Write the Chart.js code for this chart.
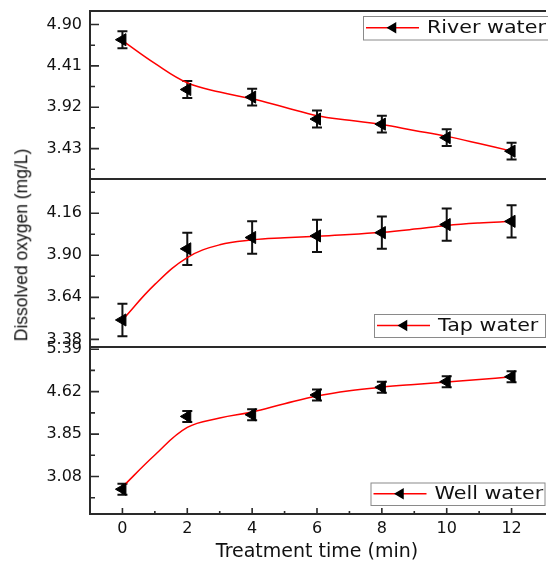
<!DOCTYPE html>
<html>
<head>
<meta charset="utf-8">
<script src="https://cdn.jsdelivr.net/npm/chart.js@4/dist/chart.umd.min.js"></script>
<style>
  html, body { margin: 0; padding: 0; background: #fff; overflow: hidden; }
  #wrap { position: relative; width: 548px; height: 562px; overflow: hidden; }
  .panel { position: absolute; left: 0; width: 552px; }
  #ylab {
    position: absolute; left: 22px; top: 245px;
    transform: translate(-50%, -50%) rotate(-90deg);
    font: 17.5px "Liberation Sans", Arial, sans-serif; line-height: 1;
    color: #111; white-space: nowrap;
  }
</style>
</head>
<body>
<div id="wrap">
  <div class="panel" style="top:0;height:190px"><canvas id="river"></canvas></div>
  <div class="panel" style="top:170px;height:190px"><canvas id="tap"></canvas></div>
  <div class="panel" style="top:330px;height:232px"><canvas id="well"></canvas></div>
  <div id="ylab">Dissolved oxygen (mg/L)</div>
</div>
<script>
'use strict';

// measured points (min) and the smooth fit drawn through them
var times = [0, 2, 4, 6, 8, 10, 12];
var fitTimes = [0, 1, 2, 3, 4, 5, 6, 7, 8, 9, 10, 11, 12];
var timeTicks = [0, 2, 4, 6, 8, 10, 12];

var riverDO = [4.72, 4.13, 4.04, 3.78, 3.72, 3.56, 3.40];
var riverErr = [0.10, 0.10, 0.10, 0.10, 0.10, 0.10, 0.10];
var riverFit = [4.71, 4.44, 4.21, 4.10, 4.02, 3.92, 3.82, 3.765, 3.715, 3.645, 3.575, 3.49, 3.40];
var riverTicks = [3.43, 3.92, 4.41, 4.90];

var tapDO = [3.50, 3.94, 4.01, 4.02, 4.04, 4.09, 4.11];
var tapErr = [0.10, 0.10, 0.10, 0.10, 0.10, 0.10, 0.10];
var tapFit = [3.50, 3.72, 3.886, 3.965, 3.995, 4.008, 4.018, 4.028, 4.042, 4.062, 4.085, 4.10, 4.11];
var tapTicks = [3.38, 3.64, 3.90, 4.16];

var wellDO = [2.85, 4.17, 4.20, 4.56, 4.70, 4.80, 4.89];
var wellErr = [0.10, 0.10, 0.10, 0.10, 0.10, 0.10, 0.10];
var wellFit = [2.89, 3.47, 3.97, 4.14, 4.25, 4.40, 4.54, 4.635, 4.70, 4.75, 4.795, 4.84, 4.89];
var wellTicks = [3.08, 3.85, 4.62, 5.39];

var axisColor = '#2a2a2a';
var tickFont = { family: 'DejaVu Sans', size: 16 };

function pairs(xs, ys) {
  return xs.map(function (x, i) { return { x: x, y: ys[i] }; });
}

function triangleLeft(ctx, x, y, r) {
  ctx.beginPath();
  ctx.moveTo(x - r, y);
  ctx.lineTo(x + r / 2, y - r * 0.866);
  ctx.lineTo(x + r / 2, y + r * 0.866);
  ctx.closePath();
  ctx.fill();
}

var panelPlugin = {
  id: 'panel',

  beforeDatasetsDraw: function (chart) {
    var ctx = chart.ctx;
    var xs = chart.scales.x;
    var ys = chart.scales.y;
    ctx.save();
    ctx.strokeStyle = '#111';
    ctx.lineWidth = 2;
    chart.data.datasets.forEach(function (ds) {
      if (!ds.errors) return;
      ds.data.forEach(function (p, i) {
        var x = xs.getPixelForValue(p.x);
        var top = ys.getPixelForValue(p.y + ds.errors[i]);
        var bot = ys.getPixelForValue(p.y - ds.errors[i]);
        ctx.beginPath();
        ctx.moveTo(x, top); ctx.lineTo(x, bot);
        ctx.moveTo(x - 5, top); ctx.lineTo(x + 5, top);
        ctx.moveTo(x - 5, bot); ctx.lineTo(x + 5, bot);
        ctx.stroke();
      });
    });
    ctx.restore();
  },

  afterDraw: function (chart, args, opts) {
    var ctx = chart.ctx;
    var a = chart.chartArea;
    var ys = chart.scales.y;
    var xs = chart.scales.x;

    ctx.save();
    ctx.strokeStyle = axisColor;
    ctx.lineWidth = 2;
    ctx.beginPath();
    ctx.moveTo(a.left, a.bottom + 1);
    ctx.lineTo(a.left, a.top - 1);
    ctx.moveTo(a.left - 1, a.top);
    ctx.lineTo(a.right + 2, a.top);
    if (opts.bottomAxis) {
      ctx.moveTo(a.left - 1, a.bottom);
      ctx.lineTo(a.right + 2, a.bottom);
    }
    ctx.stroke();

    // inward ticks on the y axis
    var major = opts.ticks;
    var step = major[1] - major[0];
    ctx.lineWidth = 1.6;
    ctx.beginPath();
    major.forEach(function (v) {
      var y = ys.getPixelForValue(v);
      ctx.moveTo(a.left, y); ctx.lineTo(a.left + 9, y);
    });
    for (var m = major[0] - step / 2; m <= ys.max; m += step) {
      if (m < ys.min) continue;
      var ym = ys.getPixelForValue(m);
      ctx.moveTo(a.left, ym); ctx.lineTo(a.left + 5, ym);
    }
    ctx.stroke();

    if (opts.bottomAxis) {
      ctx.beginPath();
      timeTicks.forEach(function (t, i) {
        var x = xs.getPixelForValue(t);
        ctx.moveTo(x, a.bottom); ctx.lineTo(x, a.bottom - 6);
        if (i < timeTicks.length - 1) {
          var xm = xs.getPixelForValue((t + timeTicks[i + 1]) / 2);
          ctx.moveTo(xm, a.bottom); ctx.lineTo(xm, a.bottom - 3);
        }
      });
      ctx.stroke();
    }

    // legend box
    var lg = opts.legend;
    var cy = lg.y + lg.h / 2;
    ctx.fillStyle = '#fff';
    ctx.fillRect(lg.x, lg.y, lg.w, lg.h);
    ctx.strokeStyle = '#8a8a8a';
    ctx.lineWidth = 1;
    ctx.strokeRect(lg.x + 0.5, lg.y + 0.5, lg.w, lg.h);
    ctx.strokeStyle = '#ff0000';
    ctx.lineWidth = 1.5;
    ctx.beginPath();
    ctx.moveTo(lg.x + 3, cy); ctx.lineTo(lg.x + 56, cy);
    ctx.stroke();
    ctx.fillStyle = '#000';
    triangleLeft(ctx, lg.x + 30, cy, 6.5);
    ctx.translate(lg.x + 64, cy);
    ctx.scale(1.18, 1);
    ctx.font = '17.5px "DejaVu Sans"';
    ctx.textBaseline = 'middle';
    ctx.fillStyle = '#111';
    ctx.fillText(chart.data.datasets[0].label, 0, 1);
    ctx.restore();
  }
};

function makePanel(id, cfg) {
  var ctx = document.getElementById(id).getContext('2d');
  return new Chart(ctx, {
    type: 'line',
    data: {
      datasets: [{
        label: cfg.label,
        data: pairs(times, cfg.values),
        errors: cfg.errors,
        showLine: false,
        pointStyle: 'triangle',
        rotation: -90,
        pointRadius: 7,
        pointBackgroundColor: '#000',
        pointBorderColor: '#000',
        pointBorderWidth: 1,
        order: 0
      }, {
        label: cfg.label + ' fit',
        data: pairs(fitTimes, cfg.fit),
        borderColor: '#ff0000',
        borderWidth: 1.5,
        pointRadius: 0,
        tension: 0.4,
        fill: false,
        order: 1
      }]
    },
    options: {
      responsive: true,
      maintainAspectRatio: false,
      animation: false,
      layout: { padding: cfg.padding },
      plugins: {
        legend: { display: false },
        tooltip: { enabled: false },
        panel: { ticks: cfg.ticks, legend: cfg.legend, bottomAxis: !!cfg.bottomAxis }
      },
      scales: {
        x: {
          type: 'linear',
          min: -1,
          max: 13,
          display: !!cfg.bottomAxis,
          grid: { display: false, drawTicks: false },
          border: { display: false },
          ticks: { font: tickFont, color: '#111', padding: 5 },
          title: {
            display: true,
            text: 'Treatment time (min)',
            font: { family: 'DejaVu Sans', size: 19, lineHeight: 1 },
            color: '#111',
            padding: 0
          },
          afterBuildTicks: function (s) {
            s.ticks = timeTicks.map(function (v) { return { value: v }; });
          },
          afterFit: function (s) {
            s.height = cfg.bottomAxis ? 48 : 0;
            s.paddingLeft = 0;
            s.paddingRight = 0;
          }
        },
        y: {
          min: cfg.min,
          max: cfg.max,
          grid: { display: false, drawTicks: false },
          border: { display: false },
          ticks: {
            font: tickFont,
            color: '#111',
            padding: 8,
            callback: function (v) { return Number(v).toFixed(2); }
          },
          afterBuildTicks: function (s) {
            s.ticks = cfg.ticks.map(function (v) { return { value: v }; });
          },
          afterFit: function (s) {
            s.width = 90;
            s.paddingTop = 0;
            s.paddingBottom = 0;
          }
        }
      }
    },
    plugins: [panelPlugin]
  });
}

makePanel('river', {
  label: 'River water',
  values: riverDO, errors: riverErr, fit: riverFit, ticks: riverTicks,
  min: 3.07, max: 5.06,
  padding: { top: 11, bottom: 11, left: 0, right: 0 },
  legend: { x: 363, y: 16, w: 195, h: 23.5 }
});

makePanel('tap', {
  label: 'Tap water',
  values: tapDO, errors: tapErr, fit: tapFit, ticks: tapTicks,
  min: 3.339, max: 4.372,
  padding: { top: 9, bottom: 14, left: 0, right: 0 },
  legend: { x: 374, y: 144, w: 171, h: 23 }
});

makePanel('well', {
  label: 'Well water',
  values: wellDO, errors: wellErr, fit: wellFit, ticks: wellTicks,
  min: 2.40, max: 5.43,
  padding: { top: 17, bottom: 0, left: 0, right: 0 },
  legend: { x: 370.5, y: 152.5, w: 174, h: 22.5 },
  bottomAxis: true
});
</script>
</body>
</html>
